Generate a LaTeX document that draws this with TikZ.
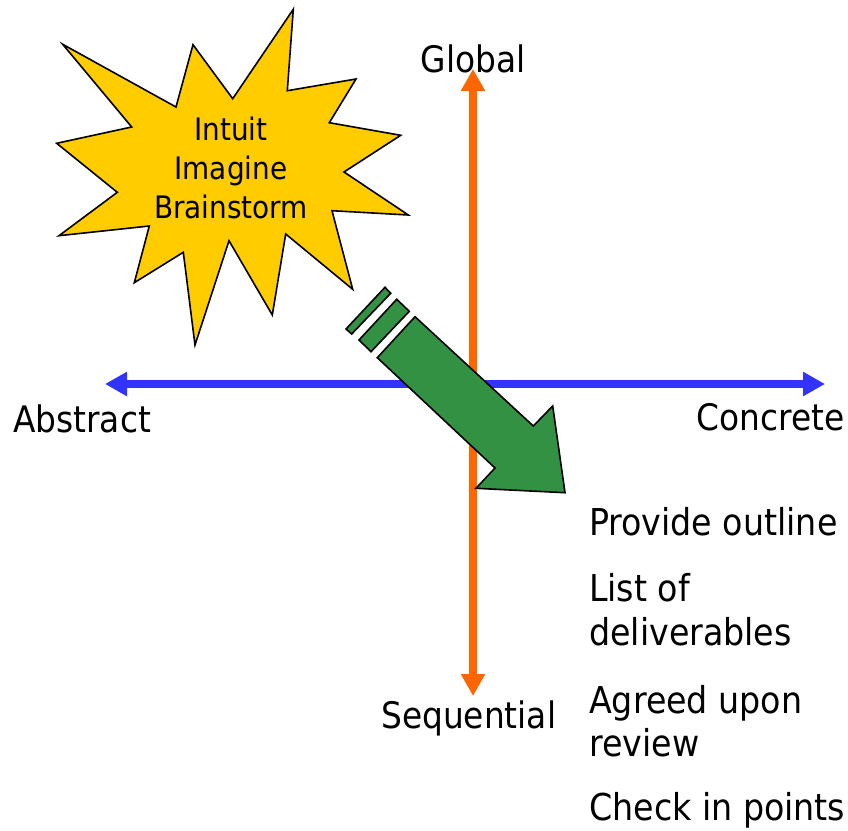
\documentclass[tikz,border=0pt]{standalone}
\usepackage{fontspec}
\setmainfont{DejaVu Sans Condensed}
\usetikzlibrary{arrows.meta}
\definecolor{staryellow}{RGB}{255,204,0}
\definecolor{axisorange}{RGB}{255,102,0}
\definecolor{axisblue}{RGB}{51,51,255}
\definecolor{arrowgreen}{RGB}{51,145,68}
\tikzset{
  axis/.style={line width=8pt,-{Triangle[length=22pt,width=23pt]}},
  burst/.style={draw=black,line width=1.6pt,fill=staryellow,line join=miter},
  block/.style={draw=black,line width=1.6pt,fill=arrowgreen,line join=miter},
  axislabel/.style={inner sep=0pt,font=\fontsize{36.5}{40}\selectfont},
  itemtext/.style={inner sep=0pt,anchor=base west,align=left,font=\fontsize{37}{43.3}\selectfont},
}
\begin{document}
\begin{tikzpicture}[x=1pt,y=-1pt]
\useasboundingbox (0,0) rectangle (848,830);

% axis end points
\coordinate (gtop) at (473,69);
\coordinate (gbot) at (473,696);
\coordinate (aleft) at (105,384);
\coordinate (aright) at (825,384);
\coordinate (mid) at (473,384);

% axes
\draw[axis,axisorange] (mid) -- (gtop);
\draw[axis,axisorange] (mid) -- (gbot);
\draw[axis,axisblue] (mid) -- (aleft);
\draw[axis,axisblue] (mid) -- (aright);

% axis labels
\node[axislabel,anchor=base] (global) at (473,72) {Global};
\node[axislabel,anchor=base west] (abstract) at (13,432) {Abstract};
\node[axislabel,anchor=base east] (concrete) at (845,430) {Concrete};
\node[axislabel,anchor=base west] (sequential) at (381,728) {Sequential};

% burst
\draw[burst] (293.3,9.3) -- (287.3,90.7) -- (356,79) -- (329.3,122.7) -- (400.7,135.3)
  -- (344,172) -- (408.3,215) -- (332,210.7) -- (352.7,289.3) -- (285.7,234)
  -- (272.3,315) -- (229,240.7) -- (195,345) -- (183.3,252.3) -- (134.3,282.7)
  -- (149.3,226) -- (59,235.7) -- (117.3,192.3) -- (56.7,143.3) -- (131.7,127)
  -- (62.7,44.3) -- (176,107) -- (193,44.7) -- (232.7,98.7) -- cycle;
% anchored on the baseline of its last line
\node[align=center,inner sep=0pt,anchor=base,font=\fontsize{31}{39}\selectfont] (burstText) at (231,218)
  {Intuit\\Imagine\\Brainstorm};

% striped block arrow
\draw[block] (385,287.3) -- (390.7,293.3) -- (351.7,334) -- (346,329) -- cycle;
\draw[block] (396.7,299.3) -- (409.3,311.3) -- (371,351.7) -- (359,340) -- cycle;
\draw[block] (415,316.7) -- (533.3,426) -- (552.7,406) -- (565,492.7) -- (476,488.3)
  -- (495,468) -- (377.3,357.7) -- cycle;

% list on the right (each anchored on its last line's baseline)
\node[itemtext] (outline) at (589,535) {Provide outline};
\node[itemtext] (deliv) at (589,645) {List of\\deliverables};
\node[itemtext] (review) at (589,756.5) {Agreed upon\\review};
\node[itemtext] (checkin) at (589,820) {Check in points};
\end{tikzpicture}
\end{document}
